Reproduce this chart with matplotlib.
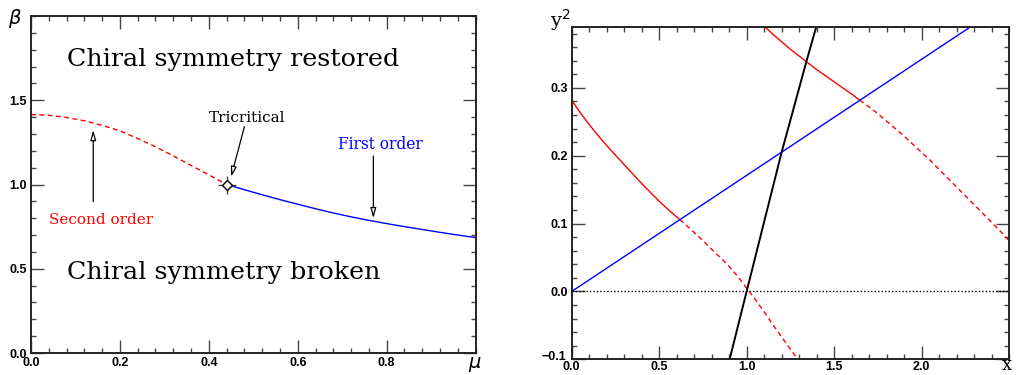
import matplotlib
matplotlib.use("Agg")
import matplotlib.pyplot as plt
from matplotlib.ticker import MultipleLocator, FuncFormatter
from matplotlib.patches import FancyArrowPatch
from matplotlib.transforms import ScaledTranslation

# ---------------- Left panel data ----------------
mu_second = [0.00, 0.04, 0.08, 0.12, 0.16, 0.20, 0.24, 0.28, 0.32, 0.36, 0.40, 0.44]
beta_second = [1.415, 1.411, 1.398, 1.378, 1.351, 1.318, 1.273, 1.224, 1.170, 1.113, 1.057, 1.000]
mu_first = [0.44, 0.48, 0.52, 0.56, 0.60, 0.64, 0.68, 0.72, 0.76, 0.80, 0.84, 0.88, 0.92, 0.96, 1.00]
beta_first = [1.000, 0.969, 0.939, 0.910, 0.883, 0.856, 0.831, 0.808, 0.787, 0.768, 0.750,
              0.733, 0.716, 0.700, 0.685]
tricritical = (0.44, 1.0)

# ---------------- Right panel data ----------------
x_red1_solid = [0.00, 0.05, 0.10, 0.15, 0.20, 0.25, 0.30, 0.35, 0.40, 0.45, 0.50, 0.55, 0.618]
y_red1_solid = [0.282, 0.263, 0.246, 0.230, 0.215, 0.201, 0.187, 0.173, 0.159, 0.146,
                0.133, 0.121, 0.106]
x_red1_dash = [0.618, 0.70, 0.75, 0.80, 0.85, 0.90, 0.95, 1.00, 1.05, 1.10, 1.15, 1.20, 1.25, 1.293]
y_red1_dash = [0.106, 0.087, 0.075, 0.062, 0.050, 0.037, 0.022, 0.005, -0.012, -0.030,
               -0.049, -0.067, -0.085, -0.100]
x_red2_solid = [1.109, 1.15, 1.20, 1.25, 1.30, 1.35, 1.40, 1.45, 1.50, 1.55, 1.60, 1.646]
y_red2_solid = [0.389, 0.379, 0.368, 0.357, 0.347, 0.337, 0.327, 0.318, 0.309, 0.300,
                0.291, 0.282]
x_red2_dash = [1.646, 1.70, 1.75, 1.80, 1.85, 1.90, 1.95, 2.00, 2.05, 2.10, 2.15, 2.20,
               2.25, 2.30, 2.35, 2.40, 2.45, 2.50]
y_red2_dash = [0.282, 0.272, 0.262, 0.251, 0.240, 0.229, 0.217, 0.205, 0.193, 0.180,
               0.167, 0.154, 0.141, 0.128, 0.115, 0.102, 0.089, 0.075]
x_blue = [0.0, 2.28]
y_blue = [0.0, 0.39]
x_black = [0.903, 1.0, 1.2, 1.343, 1.397]
y_black = [-0.1, 0.0, 0.205, 0.34, 0.389]

TICKFAMILY = "Liberation Sans"
TICKSIZE = 9
SERIF = "DejaVu Serif"

fig = plt.figure(figsize=(10.16, 3.75), dpi=100)
axL = fig.add_axes([31/1016, 1-353/375, (475.6-31)/1016, (353-16)/375])
axR = fig.add_axes([571.7/1016, 1-359.3/375, (1009-571.7)/1016, (359.3-27.3)/375])

fmt = FuncFormatter(lambda v, p: ("%.1f" % v).replace("-", "\u2212") if abs(v) > 1e-9 else "0.0")

def style(ax, xmin, ymin, xt, yt, xpad):
    ax.xaxis.set_minor_locator(MultipleLocator(xmin))
    ax.yaxis.set_minor_locator(MultipleLocator(ymin))
    ax.set_xticks(xt)
    ax.set_yticks(yt)
    ax.xaxis.set_major_formatter(fmt)
    ax.yaxis.set_major_formatter(fmt)
    ax.tick_params(which="both", direction="in", top=True, right=True,
                   color="#444444", width=1.0)
    ax.tick_params(which="major", length=9.5)
    ax.tick_params(which="minor", length=3.6)
    ax.tick_params(axis="y", which="major", pad=3)
    ax.tick_params(axis="x", which="major", pad=xpad)
    for lab in ax.get_xticklabels() + ax.get_yticklabels():
        lab.set_fontfamily(TICKFAMILY)
        lab.set_fontweight("bold")
        lab.set_fontsize(TICKSIZE)
    for sp in ax.spines.values():
        sp.set_linewidth(1.4)
        sp.set_color("#222222")

# ---------------- Left panel ----------------
axL.plot(mu_second, beta_second, color="red", lw=1.0, dashes=(3.5, 2.5))
axL.plot(mu_first, beta_first, color="blue", lw=1.0)
axL.plot([tricritical[0]], [tricritical[1]], marker="+", ms=13, mew=1.0,
         color="#444444", ls="none")
axL.plot([tricritical[0]], [tricritical[1]], marker="D", ms=5, mew=1.0,
         mfc="white", mec="black", ls="none")
style(axL, 0.04, 0.1, [0.0, 0.2, 0.4, 0.6, 0.8], [0.0, 0.5, 1.0, 1.5], 3)
axL.set_xlim(0, 1.0)
axL.set_ylim(0, 2.0)

axL.text(0.455, 1.74, "Chiral symmetry restored", fontsize=18.3, family=SERIF,
         ha="center", va="center")
axL.text(0.434, 0.48, "Chiral symmetry broken", fontsize=18.3, family=SERIF,
         ha="center", va="center")
axL.text(0.485, 1.393, "Tricritical", fontsize=11, family=SERIF, ha="center", va="center")
axL.text(0.785, 1.24, "First order", fontsize=11.2, family=SERIF, color="blue",
         ha="center", va="center")
axL.text(0.157, 0.789, "Second order", fontsize=11, family=SERIF, color="red",
         ha="center", va="center")

def open_arrow(ax, start, end):
    ar = FancyArrowPatch(start, end, arrowstyle="-|>,head_length=6,head_width=1.7",
                         mutation_scale=1.0, lw=0.9, edgecolor="black",
                         facecolor="white", shrinkA=0, shrinkB=0)
    ax.add_patch(ar)

open_arrow(axL, (0.14, 0.898), (0.14, 1.323))
open_arrow(axL, (0.77, 1.169), (0.77, 0.80))
open_arrow(axL, (0.48, 1.343), (0.45, 1.046))

fig.text(15/1016, 1-18/375, r"$\beta$", fontsize=14, ha="center", va="center")
fig.text(475/1016, 1-364/375, r"$\mu$", fontsize=14, ha="center", va="center")

# ---------------- Right panel ----------------
axR.plot([0, 2.5], [0, 0], color="black", lw=1.0, ls=(0, (1, 1.5)))
axR.plot(x_red1_solid, y_red1_solid, color="red", lw=1.0)
axR.plot(x_red1_dash, y_red1_dash, color="red", lw=1.0, dashes=(3.5, 2.5))
axR.plot(x_red2_solid, y_red2_solid, color="red", lw=1.0)
axR.plot(x_red2_dash, y_red2_dash, color="red", lw=1.0, dashes=(3.5, 2.5))
axR.plot(x_blue, y_blue, color="blue", lw=1.0)
axR.plot(x_black, y_black, color="black", lw=1.4)
style(axR, 0.1, 0.02, [0.0, 0.5, 1.0, 1.5, 2.0], [-0.1, 0.0, 0.1, 0.2, 0.3], 1)
axR.set_xlim(0, 2.5)
axR.set_ylim(-0.1, 0.3893)

# nudge the lowest y label up a little so it does not touch the "0.0" x label
lowlab = axR.yaxis.get_major_ticks()[0].label1
lowlab.set_transform(lowlab.get_transform() + ScaledTranslation(-1/72, 3/72, fig.dpi_scale_trans))

fig.text(560/1016, 1-20/375, r"y$^2$", fontsize=14, family=SERIF, ha="center", va="center")
fig.text(1007/1016, 1-365/375, "x", fontsize=13, family=SERIF, ha="center", va="center")

fig.savefig("out.png", dpi=100)
